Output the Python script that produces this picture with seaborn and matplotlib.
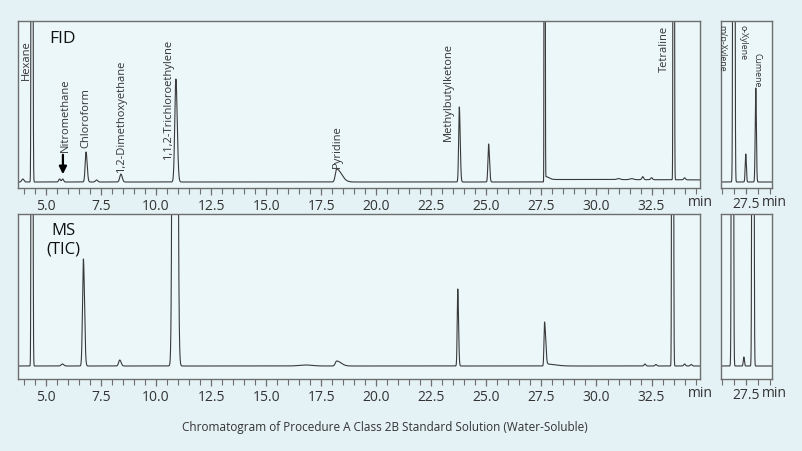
import numpy as np
import pandas as pd
import matplotlib
matplotlib.use('Agg')
import matplotlib.pyplot as plt
from matplotlib.ticker import MultipleLocator, FixedLocator, FormatStrFormatter
import seaborn as sns

# peak tables: retention time (min), height (px above baseline),
# left / right width (min). heights far above the frame are off-scale peaks.
FID_RT = [3.95, 4.36, 5.62, 5.76, 6.82, 7.30, 8.40, 10.90, 18.20, 23.77, 25.10,
          27.64, 27.68, 27.72, 31.00, 31.60, 32.10, 32.50, 33.50, 34.00]
FID_H = [3, 3000, 3, 3, 30, 2, 8, 103, 13, 75, 38,
         3000, 3, 2.5, 1, 1, 3, 2, 3000, 2]
FID_WL = [0.05, 0.02, 0.04, 0.04, 0.04, 0.05, 0.05, 0.05, 0.06, 0.03, 0.03,
          0.012, 0.02, 0.02, 0.08, 0.08, 0.04, 0.04, 0.015, 0.04]
FID_WR = [0.05, 0.025, 0.04, 0.04, 0.05, 0.05, 0.06, 0.06, 0.22, 0.04, 0.04,
          0.016, 0.15, 12.0, 0.08, 0.08, 0.04, 0.04, 0.02, 0.04]

MS_RT = [4.36, 5.75, 6.70, 8.35, 10.85, 16.80, 18.20, 23.70, 27.64, 27.70,
         32.20, 32.70, 33.45, 34.00, 34.30]
MS_H = [3000, 2, 107, 6, 3000, 1, 5, 77, 44, 2, 2, 1.5, 3000, 2, 1.5]
MS_WL = [0.02, 0.06, 0.04, 0.05, 0.06, 0.3, 0.06, 0.025, 0.025, 0.02,
         0.04, 0.04, 0.02, 0.04, 0.04]
MS_WR = [0.025, 0.06, 0.05, 0.06, 0.07, 0.3, 0.2, 0.035, 0.05, 0.4,
         0.04, 0.04, 0.025, 0.04, 0.04]

FID_INSET_RT = [27.25, 27.50, 27.71]
FID_INSET_H = [3000, 28, 94]
MS_INSET_RT = [27.22, 27.46, 27.65]
MS_INSET_H = [3000, 9, 3000]
INSET_W = [0.012, 0.012, 0.012]

FID_NAMES = ['Hexane', 'Nitromethane', 'Chloroform', '1,2-Dimethoxyethane',
             '1,1,2-Trichloroethylene', 'Pyridine', 'Methylbutylketone', 'Tetraline']
FID_NAME_X = [4.09, 5.86, 6.82, 8.45, 10.55, 18.23, 23.27, 33.09]
FID_NAME_Y = [103, 31, 35, 10, 23, 15, 42, 111]

INSET_NAMES = ['m/p-Xylene', 'o-Xylene', 'Cumene']
INSET_NAME_X = [27.0, 27.44, 27.74]
INSET_NAME_Y = [158, 158, 130]

TITLE = 'Chromatogram of Procedure A Class 2B Standard Solution (Water-Soluble)'

BG = '#e4f1f5'
AX_BG = '#ecf7fa'
TRACE = '#3a3a3a'
FRAME = '#6e6e6e'
TXT = '#333333'


def trace(t, rts, hs, wl, wr):
    y = np.zeros_like(t)
    for rt, h, a, b in zip(rts, hs, wl, wr):
        w = np.where(t < rt, a, b)
        y += h * np.exp(-0.5 * ((t - rt) / w) ** 2)
    return y


def px_axes(fig, l, t, r, b):
    W, H = 802, 452
    ax = fig.add_axes([l / W, 1 - b / H, (r - l) / W, (b - t) / H])
    ax.set_facecolor(AX_BG)
    for s in ax.spines.values():
        s.set_color(FRAME)
        s.set_linewidth(1.0)
    ax.set_yticks([])
    ax.tick_params(axis='x', which='both', direction='out', color=FRAME,
                   labelsize=10, labelcolor=TXT, pad=2)
    ax.tick_params(axis='x', which='major', length=5, width=0.9)
    ax.tick_params(axis='x', which='minor', length=4, width=0.8)
    return ax


def draw(ax, t, y):
    df = pd.DataFrame({'t': t, 'y': y})
    sns.lineplot(data=df, x='t', y='y', ax=ax, color=TRACE, linewidth=0.8,
                 estimator=None, sort=False)
    ax.set_xlabel('')
    ax.set_ylabel('')


sns.set_theme(style='ticks')
plt.rcParams['font.family'] = ['Open Sans', 'DejaVu Sans']

fig = plt.figure(figsize=(8.02, 4.52), dpi=100)
fig.patch.set_facecolor(BG)

t_main = np.linspace(3.7, 34.8, 30000)
t_ins = np.linspace(26.9, 28.2, 3000)

ax_fid = px_axes(fig, 18, 22, 700, 189)
ax_ms = px_axes(fig, 18, 215, 700, 380)
ax_fid_in = px_axes(fig, 721, 22, 772, 189)
ax_ms_in = px_axes(fig, 721, 215, 772, 380)

draw(ax_fid, t_main, trace(t_main, FID_RT, FID_H, FID_WL, FID_WR))
draw(ax_ms, t_main, trace(t_main, MS_RT, MS_H, MS_WL, MS_WR))
draw(ax_fid_in, t_ins, trace(t_ins, FID_INSET_RT, FID_INSET_H, INSET_W, INSET_W))
draw(ax_ms_in, t_ins, trace(t_ins, MS_INSET_RT, MS_INSET_H, INSET_W, INSET_W))

for ax, ylim in [(ax_fid, (-6, 161)), (ax_ms, (-13, 152))]:
    ax.set_xlim(3.73, 34.7)
    ax.set_ylim(*ylim)
    ax.xaxis.set_major_locator(MultipleLocator(2.5))
    ax.xaxis.set_minor_locator(MultipleLocator(0.5))
    ax.xaxis.set_major_formatter(FormatStrFormatter('%.1f'))
    ax.text(1.0, -0.035, 'min', transform=ax.transAxes, ha='center', va='top',
            fontsize=10, color=TXT)

for ax, ylim in [(ax_fid_in, (-6, 161)), (ax_ms_in, (-13, 152))]:
    ax.set_xlim(26.98, 28.05)
    ax.set_ylim(*ylim)
    ax.xaxis.set_major_locator(FixedLocator([27.5]))
    ax.xaxis.set_minor_locator(MultipleLocator(0.25))
    ax.xaxis.set_major_formatter(FormatStrFormatter('%.1f'))
    ax.tick_params(axis='x', which='major', length=4)
    ax.text(1.3, -0.035, 'min', transform=ax.transAxes, ha='right', va='top',
            fontsize=10, color=TXT)

for name, x, y in zip(FID_NAMES, FID_NAME_X, FID_NAME_Y):
    ax_fid.text(x, y, name, rotation=90, ha='center', va='bottom',
                fontsize=8, color=TXT)

for name, x, y in zip(INSET_NAMES, INSET_NAME_X, INSET_NAME_Y):
    ax_fid_in.text(x, y, name, rotation=270, ha='center', va='top',
                   fontsize=6.3, color=TXT, clip_on=True)

ax_fid.annotate('', xy=(5.77, 5), xytext=(5.77, 30),
                arrowprops=dict(arrowstyle='-|>', color='black', lw=1.6,
                                mutation_scale=11))

ax_fid.text(31 / 682, 1 - 9 / 167, 'FID', transform=ax_fid.transAxes,
            ha='left', va='top', fontsize=12.5, color='#111111')
ax_ms.text(45 / 682, 1 - 8 / 165, 'MS\n(TIC)', transform=ax_ms.transAxes,
           ha='center', va='top', fontsize=12, color='#111111',
           linespacing=1.25, multialignment='center')

fig.text(385 / 802, 1 - 428 / 452, TITLE, ha='center', va='center',
         fontsize=8.5, color=TXT)

fig.savefig('out.png', dpi=100, facecolor=BG)
